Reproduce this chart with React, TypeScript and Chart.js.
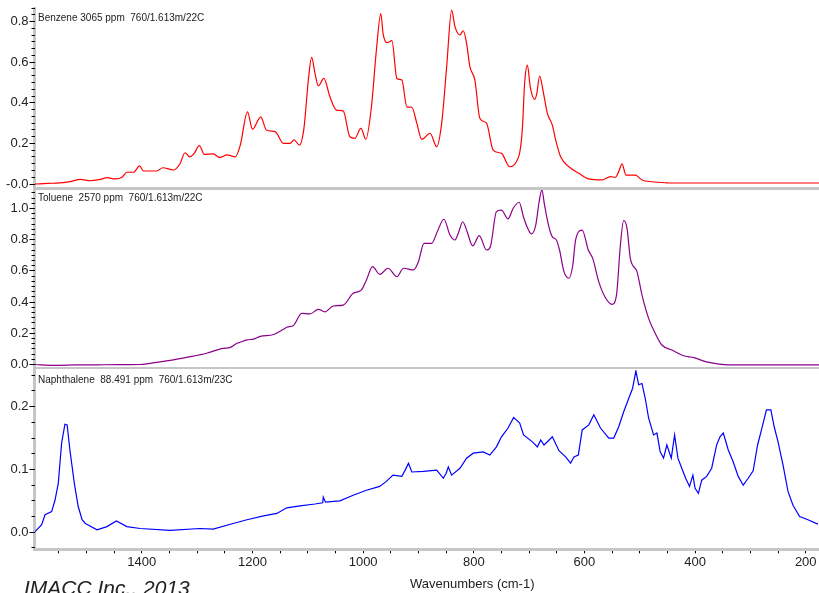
import React, { useEffect, useRef } from "react";
import { Chart, registerables } from "chart.js";

Chart.register(...registerables);

const FONT = '"Liberation Sans", Arial, Helvetica, sans-serif';
const TEXT = "#222222";
const AXIS_GREY = "#c6c6c6";

const WN_MIN = 176;
const WN_MAX = 1594;
const xTickValues = [1400, 1200, 1000, 800, 600, 400, 200];

const benzeneWn = [
  1593, 1570, 1548, 1530, 1511, 1493, 1475, 1463, 1448, 1435, 1427, 1415, 1404, 1397, 1373, 1362,
  1343, 1331, 1322, 1313, 1306, 1296, 1287, 1271, 1259, 1246, 1231, 1222, 1209, 1200, 1185, 1175,
  1159, 1144, 1132, 1125, 1115, 1107, 1099, 1093, 1087, 1081, 1071, 1060, 1048, 1036, 1024, 1015,
  1004, 995, 985, 976, 968, 964, 957, 948, 939, 930, 921, 912, 903, 894, 879, 867, 858, 849, 840,
  834, 825, 819, 813, 807, 798, 789, 777, 765, 750, 735, 723, 716, 712, 708, 703, 698, 690, 686,
  681, 675, 667, 658, 652, 643, 628, 610, 592, 568, 553, 544, 538, 532, 525, 508, 496, 478, 453,
  435, 300, 176,
];
const benzeneAbs = [
  0.0, 0.003, 0.006, 0.012, 0.023, 0.016, 0.023, 0.031, 0.025, 0.035, 0.058, 0.058, 0.089, 0.064, 0.064, 0.08,
  0.069, 0.1, 0.154, 0.134, 0.148, 0.189, 0.146, 0.148, 0.131, 0.143, 0.134, 0.192, 0.355, 0.27, 0.331, 0.266,
  0.258, 0.2, 0.2, 0.217, 0.192, 0.274, 0.512, 0.624, 0.545, 0.483, 0.52, 0.43, 0.364, 0.36, 0.233, 0.225,
  0.274, 0.22, 0.38, 0.66, 0.84, 0.742, 0.696, 0.706, 0.52, 0.512, 0.38, 0.378, 0.3, 0.22, 0.25, 0.184, 0.3, 0.578, 0.857,
  0.775, 0.734, 0.755, 0.693, 0.578, 0.512, 0.324, 0.3, 0.167, 0.151, 0.085, 0.11, 0.17, 0.28, 0.5, 0.586, 0.48, 0.417, 0.447,
  0.532, 0.463, 0.348, 0.29, 0.217, 0.134, 0.085, 0.053, 0.025, 0.02, 0.036, 0.033, 0.061, 0.099, 0.044, 0.044, 0.02, 0.011, 0.006,
  0.005, 0.005, 0.005,
];

const tolueneWn = [
  1593, 1560, 1520, 1480, 1440, 1403, 1373, 1343, 1319, 1283, 1253, 1241, 1228, 1222, 1210, 1198,
  1186, 1162, 1144, 1138, 1126, 1123, 1111, 1096, 1081, 1069, 1054, 1036, 1018, 1003, 994, 983,
  970, 955, 939, 927, 909, 900, 890, 876, 866, 854, 843, 834, 827, 820, 812, 802, 790, 777, 770,
  759, 750, 738, 729, 718, 710, 703, 696, 688, 682, 677, 672, 664, 658, 651, 645, 637, 628, 621,
  616, 604, 593, 585, 574, 562, 550, 542, 535, 529, 523, 517, 505, 496, 484, 472, 460, 442, 421,
  402, 381, 357, 327, 176,
];
const tolueneAbs = [
  0.0, -0.005, -0.003, -0.002, -0.001, 0.0, 0.014, 0.03, 0.046, 0.072, 0.104, 0.108, 0.136, 0.143, 0.158, 0.163,
  0.18, 0.192, 0.226, 0.239, 0.25, 0.264, 0.328, 0.324, 0.354, 0.338, 0.375, 0.381, 0.456, 0.478, 0.542, 0.627,
  0.578, 0.617, 0.563, 0.617, 0.606, 0.659, 0.777, 0.777, 0.851, 0.931, 0.83, 0.798, 0.851, 0.915, 0.851, 0.76, 0.826, 0.734, 0.755,
  0.98, 0.99, 0.934, 1.0, 1.04, 0.944, 0.877, 0.837, 0.894, 1.04, 1.12, 1.02, 0.88, 0.818, 0.8, 0.734, 0.595, 0.553, 0.638,
  0.798, 0.862, 0.734, 0.68, 0.53, 0.428, 0.386, 0.446, 0.766, 0.923, 0.873, 0.68, 0.595, 0.446, 0.296, 0.2, 0.125, 0.093, 0.056,
  0.044, 0.018, 0.003, -0.003, -0.003,
];

const naphthWn = [
  1593, 1581, 1575, 1563, 1557, 1551, 1545, 1539, 1535, 1530, 1522, 1515, 1508, 1502, 1481, 1463,
  1446, 1427, 1403, 1349, 1295, 1271, 1235, 1210, 1180, 1156, 1138, 1114, 1087, 1073, 1072, 1068,
  1042, 1018, 994, 970, 958, 946, 930, 924, 918, 912, 891, 867, 855, 850, 846, 840, 825, 813, 801,
  783, 771, 759, 750, 738, 728, 717, 710, 694, 685, 679, 673, 658, 646, 634, 625, 619, 611, 604,
  592, 583, 571, 556, 547, 538, 529, 520, 513, 507, 502, 496, 490, 484, 475, 469, 463, 457, 451,
  443, 437, 431, 424, 417, 410, 404, 400, 394, 388, 379, 370, 361, 355, 349, 340, 331, 322, 313,
  304, 295, 287, 280, 271, 263, 257, 250, 241, 232, 223, 211, 196, 178,
];
const naphthAbs = [
  0.001, 0.012, 0.028, 0.033, 0.051, 0.078, 0.142, 0.172, 0.171, 0.131, 0.078, 0.041, 0.02, 0.014, 0.004, 0.009,
  0.018, 0.009, 0.006, 0.003, 0.006, 0.005, 0.014, 0.02, 0.026, 0.03, 0.039, 0.042, 0.045, 0.047, 0.056, 0.048,
  0.05, 0.059, 0.067, 0.073, 0.081, 0.091, 0.089, 0.099, 0.11, 0.096, 0.097, 0.099, 0.086, 0.094, 0.104, 0.091, 0.102, 0.118, 0.126,
  0.128, 0.123, 0.136, 0.152, 0.166, 0.183, 0.174, 0.155, 0.144, 0.136, 0.147, 0.139, 0.152, 0.13, 0.12, 0.11, 0.12, 0.123, 0.163,
  0.171, 0.187, 0.166, 0.15, 0.15, 0.168, 0.192, 0.213, 0.229, 0.257, 0.235, 0.237, 0.213, 0.182, 0.155, 0.158, 0.128, 0.118, 0.139,
  0.118, 0.155, 0.118, 0.102, 0.086, 0.073, 0.091, 0.07, 0.062, 0.083, 0.089, 0.102, 0.139, 0.152, 0.158, 0.131, 0.112, 0.089, 0.075,
  0.086, 0.098, 0.139, 0.163, 0.195, 0.195, 0.168, 0.144, 0.107, 0.065, 0.043, 0.025, 0.02, 0.013,
];

const panelLabels = [
  "Benzene 3065 ppm  760/1.613m/22C",
  "Toluene  2570 ppm  760/1.613m/22C",
  "Naphthalene  88.491 ppm  760/1.613m/23C",
];
const xTitle = "Wavenumbers (cm-1)";
const credit = "IMACC Inc., 2013";

interface PanelProps {
  top: number;
  height: number;
  padTop: number;
  xAxisHeight: number;
  wn: number[];
  abs: number[];
  color: string;
  smooth: boolean;
  yMin: number;
  yMax: number;
  yMajor: number;
  yMinor: number;
  zeroText: string;
  bottom: boolean;
}

function Panel(p: PanelProps) {
  const ref = useRef<HTMLCanvasElement | null>(null);
  useEffect(() => {
    if (!ref.current) return;
    const pts = p.wn.map((x, i) => ({ x, y: p.abs[i] }));
    const tickFont = { family: FONT, size: 13 };
    const scales: any = {
      x: {
        type: "linear",
        position: "bottom",
        reverse: true,
        min: WN_MIN,
        max: WN_MAX,
        afterFit: (s: any) => {
          s.height = p.xAxisHeight;
          s.paddingLeft = 0;
          s.paddingRight = 0;
        },
        border: { display: true, color: AXIS_GREY, width: 3 },
        grid: {
          display: p.bottom,
          drawOnChartArea: false,
          drawTicks: true,
          tickLength: 4,
          color: "#000000",
          tickColor: "#000000",
          lineWidth: 1,
        },
        ticks: p.bottom
          ? {
              display: true,
              stepSize: 50,
              includeBounds: false,
              autoSkip: false,
              maxRotation: 0,
              minRotation: 0,
              padding: 1,
              color: TEXT,
              font: tickFont,
              callback: (v: any) => {
                const r = Math.round(Number(v));
                return xTickValues.includes(r) ? String(r) : "";
              },
            }
          : { display: false },
      },
      y: {
        type: "linear",
        position: "left",
        min: p.yMin,
        max: p.yMax,
        weight: 1,
        afterFit: (s: any) => {
          s.width = 34.5;
          s.paddingTop = 0;
          s.paddingBottom = 0;
        },
        border: { display: true, color: AXIS_GREY, width: 3 },
        grid: {
          display: true,
          drawOnChartArea: false,
          drawTicks: true,
          tickLength: 5,
          color: "#000000",
          tickColor: "#000000",
          lineWidth: 1,
        },
        ticks: {
          stepSize: p.yMajor,
          includeBounds: false,
          padding: 1,
          color: TEXT,
          font: tickFont,
          callback: (v: any) => (Math.abs(Number(v)) < 1e-9 ? p.zeroText : Number(v).toFixed(1)),
        },
      },
      yMinor: {
        type: "linear",
        position: "left",
        min: p.yMin,
        max: p.yMax,
        weight: 0,
        afterFit: (s: any) => {
          s.width = 0;
          s.paddingTop = 0;
          s.paddingBottom = 0;
        },
        border: { display: false },
        grid: {
          display: true,
          drawOnChartArea: false,
          drawTicks: true,
          tickLength: 3,
          color: "#000000",
          tickColor: "#000000",
          lineWidth: 1,
          z: 1,
        },
        ticks: { display: false, stepSize: p.yMinor, includeBounds: false },
      },
    };
    const chart = new Chart(ref.current, {
      type: "line",
      data: {
        datasets: [
          {
            data: pts,
            xAxisID: "x",
            yAxisID: "y",
            borderColor: p.color,
            borderWidth: 1.2,
            pointRadius: 0,
            tension: p.smooth ? 0.4 : 0,
            cubicInterpolationMode: p.smooth ? "monotone" : "default",
            fill: false,
          },
        ],
      },
      options: {
        responsive: false,
        maintainAspectRatio: false,
        animation: false,
        devicePixelRatio: 1,
        layout: { padding: { top: p.padTop, left: 0, right: 0, bottom: 0 } },
        plugins: { legend: { display: false }, tooltip: { enabled: false }, title: { display: false } },
        scales,
      } as any,
    });
    return () => chart.destroy();
  }, []);
  return (
    <canvas
      ref={ref}
      width={819}
      height={p.height}
      style={{ position: "absolute", left: 0, top: p.top, width: 819, height: p.height, display: "block" }}
    />
  );
}

const labelStyle: React.CSSProperties = {
  position: "absolute",
  left: 38,
  fontFamily: FONT,
  fontSize: 10,
  lineHeight: "12px",
  color: TEXT,
  whiteSpace: "pre",
};

export default function App() {
  return (
    <div
      style={{
        position: "absolute",
        left: 0,
        top: 0,
        width: 819,
        height: 593,
        overflow: "hidden",
        background: "#ffffff",
      }}
    >
      <Panel
        top={0}
        height={190}
        padTop={8}
        xAxisHeight={2}
        wn={benzeneWn}
        abs={benzeneAbs}
        color="#ff0000"
        smooth={true}
        yMin={-0.0197}
        yMax={0.867}
        yMajor={0.2}
        yMinor={0.2 / 6}
        zeroText="-0.0"
        bottom={false}
      />
      <Panel
        top={190}
        height={179}
        padTop={0}
        xAxisHeight={1}
        wn={tolueneWn}
        abs={tolueneAbs}
        color="#8b008b"
        smooth={true}
        yMin={-0.0224}
        yMax={1.1186}
        yMajor={0.2}
        yMinor={0.2 / 6}
        zeroText="0.0"
        bottom={false}
      />
      <Panel
        top={369}
        height={224}
        padTop={1}
        xAxisHeight={43.7}
        wn={naphthWn}
        abs={naphthAbs}
        color="#0000ff"
        smooth={false}
        yMin={-0.0271}
        yMax={0.2584}
        yMajor={0.1}
        yMinor={0.025}
        zeroText="0.0"
        bottom={true}
      />
      <div style={{ ...labelStyle, top: 12.2 }}>{panelLabels[0]}</div>
      <div style={{ ...labelStyle, top: 192.2 }}>{panelLabels[1]}</div>
      <div style={{ ...labelStyle, top: 373.5 }}>{panelLabels[2]}</div>
      <div
        style={{
          position: "absolute",
          left: 410,
          top: 576.3,
          fontFamily: FONT,
          fontSize: 13,
          lineHeight: "15px",
          color: TEXT,
          whiteSpace: "pre",
        }}
      >
        {xTitle}
      </div>
      <div
        style={{
          position: "absolute",
          left: 24,
          top: 577,
          fontFamily: FONT,
          fontSize: 21,
          fontStyle: "italic",
          lineHeight: "21px",
          color: TEXT,
          whiteSpace: "pre",
        }}
      >
        {credit}
      </div>
    </div>
  );
}
